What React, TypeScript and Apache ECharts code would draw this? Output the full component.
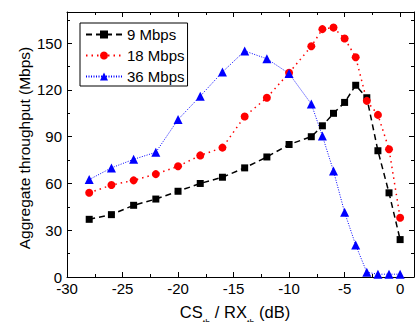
import React, { useEffect, useRef } from "react";
import * as echarts from "echarts";

const xValues = [-28, -26, -24, -22, -20, -18, -16, -14, -12, -10, -8, -7, -6, -5, -4, -3, -2, -1, 0];
const mbps9 = [37, 40, 46, 50, 55, 60, 64, 70, 77, 85, 90, 97, 105, 112, 123, 115, 81, 54, 24];
const mbps18 = [54, 59, 62, 66, 71, 78, 83, 103, 115, 131, 148, 159, 160, 153, 141, 113, 104, 82, 38];
const mbps36 = [62.5, 70, 75.5, 80, 101, 116, 131.5, 145, 140, 130.5, 111, 90.5, 68, 41.5, 20.5, 3, 1.8, 1.8, 1.8];
const seriesNames = ["9 Mbps", "18 Mbps", "36 Mbps"];
const yAxisTitle = "Aggregate throughput (Mbps)";

const FONT = "'Liberation Sans', Arial, sans-serif";

export default function App() {
  const ref = useRef<HTMLDivElement>(null);
  useEffect(() => {
    if (!ref.current) return;
    const chart = echarts.init(ref.current, null, { renderer: "svg" });
    const pair = (ys: number[]) => xValues.map((x, i) => [x, ys[i]]);
    const axisCommon = {
      axisLine: { show: true, onZero: false, lineStyle: { color: "#000", width: 1 } },
      axisTick: { show: true, inside: true, length: 5, lineStyle: { color: "#000" } },
      minorTick: { show: true, splitNumber: 2, length: 3, lineStyle: { color: "#000" } },
      splitLine: { show: false },
      minorSplitLine: { show: false },
    };
    const xCommon = { type: "value", min: -30, max: 1.25, interval: 5, ...axisCommon };
    const yCommon = { type: "value", min: 0, max: 170, interval: 30, ...axisCommon };
    chart.setOption({
      animation: false,
      backgroundColor: "#fff",
      textStyle: { fontFamily: FONT },
      grid: { left: 67, top: 12, bottom: 45, right: 0, containLabel: false },
      legend: {
        orient: "vertical",
        left: 80,
        top: 23,
        borderColor: "#000",
        borderWidth: 1,
        padding: [4, 3, 2, 5],
        itemWidth: 36,
        itemHeight: 10,
        itemGap: 6,
        textStyle: { fontSize: 15, color: "#000", fontFamily: FONT },
        data: seriesNames,
      },
      xAxis: [
        {
          ...xCommon,
          position: "bottom",
          axisLabel: {
            show: true,
            margin: 4,
            fontSize: 15,
            color: "#000",
            fontFamily: FONT,
            formatter: (v: number) => (v % 5 === 0 && v <= 0 ? String(v) : ""),
          },
        },
        { ...xCommon, position: "top", axisLabel: { show: false } },
      ],
      yAxis: [
        {
          ...yCommon,
          position: "left",
          axisLabel: {
            show: true,
            margin: 5,
            fontSize: 15,
            color: "#000",
            fontFamily: FONT,
            showMaxLabel: false,
          },
        },
        { ...yCommon, position: "right", axisLabel: { show: false } },
      ],
      graphic: [
        {
          type: "text",
          x: 24,
          y: 148,
          rotation: Math.PI / 2,
          style: {
            text: yAxisTitle,
            align: "center",
            verticalAlign: "middle",
            font: `15.5px ${FONT}`,
            fill: "#000",
          },
        },
        {
          type: "text",
          x: 235,
          y: 312,
          style: {
            text: "{a|CS}{s|th}{a| / RX}{s|th}{a| (dB)}",
            align: "center",
            verticalAlign: "middle",
            fill: "#000",
            rich: {
              a: { fontSize: 16.5, fontFamily: FONT, lineHeight: 17, verticalAlign: "middle", fill: "#000" },
              s: { fontSize: 9, fontFamily: FONT, lineHeight: 30, verticalAlign: "bottom", fill: "#000" },
            },
          },
        },
      ],
      series: [
        {
          name: seriesNames[0],
          type: "line",
          data: pair(mbps9),
          symbol: "rect",
          symbolSize: 7,
          clip: false,
          itemStyle: { color: "#000" },
          lineStyle: { color: "#000", width: 1.5, type: [6, 4] },
        },
        {
          name: seriesNames[1],
          type: "line",
          data: pair(mbps18),
          symbol: "circle",
          symbolSize: 8,
          clip: false,
          itemStyle: { color: "#ff0000" },
          lineStyle: { color: "#ff0000", width: 1.5, type: [1.5, 4] },
        },
        {
          name: seriesNames[2],
          type: "line",
          data: pair(mbps36),
          symbol: "triangle",
          symbolSize: 9,
          clip: false,
          itemStyle: { color: "#0000ff" },
          lineStyle: { color: "#0000ff", width: 1, type: [1, 1.5] },
        },
      ],
    });
    return () => chart.dispose();
  }, []);
  return <div ref={ref} style={{ width: 417, height: 322, position: "absolute", left: 0, top: 0 }} />;
}
